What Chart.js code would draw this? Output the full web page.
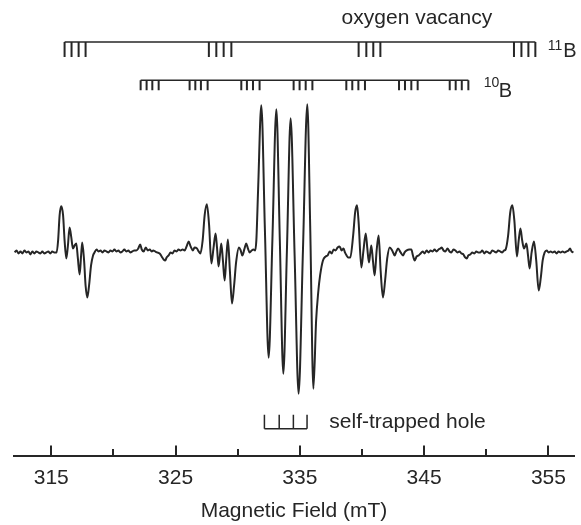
<!DOCTYPE html>
<html lang="en">
  <head>
    <meta charset="UTF-8" />
    <title>EPR spectrum</title>
    <script src="https://cdn.jsdelivr.net/npm/chart.js"></script>
    <style>
      body {
        margin: 0;
        background: #fff;
      }
      .wrap {
        width: 581px;
        height: 525px;
      }
    </style>
  </head>
  <body>
    <div class="wrap">
      <canvas id="myChart" width="581" height="525"></canvas>
    </div>
  </body>
</html>

<script>
  // spectrum (field in mT, intensity in a.u.)
  const field = [
    312.05, 312.2, 312.36, 312.52, 312.68, 312.84, 313.0, 313.16, 313.32, 313.48, 313.64, 313.8, 313.96, 314.12, 314.28, 314.44, 314.6, 314.76, 314.92, 315.08, 315.24, 315.43,
    315.55, 315.67, 315.8, 315.95, 316.07, 316.21, 316.34, 316.47, 316.61, 316.74, 316.88, 317.01, 317.14, 317.28, 317.4, 317.49, 317.64, 317.76, 317.9, 318.04, 318.2, 318.36, 318.48,
    318.64, 318.8, 318.96, 319.12, 319.28, 319.44, 319.6, 319.76, 319.92, 320.08, 320.24, 320.4, 320.56, 320.72, 320.88, 321.04, 321.2, 321.36, 321.52, 321.68, 321.84, 322.0, 322.15, 322.28, 322.44, 322.6, 322.76, 322.92, 323.08, 323.2, 323.36, 323.52, 323.72, 323.88, 324.04, 324.17, 324.28, 324.44, 324.6, 324.76, 324.92, 325.08, 325.24, 325.4, 325.56, 325.73, 325.89, 326.05, 326.21, 326.4, 326.53, 326.72, 326.86,
    327.0, 327.18, 327.34, 327.52, 327.7, 327.88, 328.05, 328.22, 328.34, 328.46, 328.57, 328.68, 328.81, 328.95, 329.08, 329.21, 329.37, 329.54, 329.71, 329.87, 330.1, 330.24, 330.37, 330.53, 330.69, 330.82, 330.96, 331.12, 331.28, 331.4,
    331.5, 331.64, 331.9, 332.19, 332.49, 332.79, 333.11, 333.39, 333.67, 333.96, 334.26, 334.58, 334.9, 335.25, 335.6, 335.84, 336.09, 336.31, 336.47, 336.63, 336.86, 337.08, 337.24,
    337.4, 337.56, 337.72, 337.88, 338.04, 338.2, 338.36, 338.52, 338.63, 338.76, 338.87,
    339.06, 339.29, 339.45, 339.6, 339.73, 339.95, 340.12, 340.3, 340.43, 340.56, 340.66, 340.75, 340.88, 341.02, 341.18, 341.34, 341.5, 341.69, 341.86, 342.03, 342.23, 342.43, 342.63, 342.77, 342.9, 343.11, 343.3, 343.43, 343.6, 343.8, 343.97, 344.1, 344.24, 344.4, 344.56,
    344.72, 344.88, 345.04, 345.2, 345.36, 345.52, 345.68, 345.84, 346.0, 346.16, 346.32, 346.41, 346.56, 346.72, 346.88, 347.04, 347.2, 347.36, 347.52, 347.68, 347.84, 348.0, 348.16, 348.3, 348.43, 348.56, 348.72, 348.88, 349.04, 349.2, 349.36, 349.52, 349.68, 349.84, 350.0, 350.16, 350.32, 350.48, 350.64, 350.8, 350.96, 351.12, 351.28, 351.44, 351.56,
    351.76, 351.93, 352.1, 352.26, 352.47, 352.61, 352.75, 352.89, 353.04, 353.13, 353.23, 353.36, 353.49, 353.65, 353.84, 354.02, 354.22, 354.38, 354.54, 354.7,
    354.86, 355.02, 355.18, 355.34, 355.5, 355.66, 355.82, 355.98, 356.14, 356.3, 356.46, 356.62, 356.74, 356.86, 357.02,
  ];
  const intensity = [
    0, 2, -1, 1, -1, 2, 0, 1, -2, 1, -1, 1, 0, -1, 1, -1, 0, 1, -1, 1, 0, 0,
    12, 37, 46, 37, 12, -6, 7, 25, 15, 4, 7, 9, -6, -22, -3, 10, -8, -33, -45, -33, -13, -3, 0,
    3, 1, 2, 0, 2, 1, 0, 2, 1, 3, 1, 2, 0, 1, 3, 1, 2, 0, 1, 2, 2, 4, 8, 3, 1, 5, 2, 3, 1, 2, 1, 0, -1, -4, -7, -8, -5, -3, 0, -1, 2, 1, 3, 2, 3, 2, 6, 11, 6, 2, 5, 4, 1,
    -1, 12, 37, 48, 27, -11, 4, 19, 4, -14, -3, 9, -8, -28, -6, 13, -18, -51, -33, -10, 5, 2, -3, 3, 9, 4, 0, 2, 3, 2,
    12, 62, 147, 22, -105, 12, 143, 12, -121, 2, 134, -3, -141, 2, 148, 22, -136, -68, -41, -23, -8, -4, -3,
    1, -1, 3, 2, 5, 6, 2, 4, 0, -3, -5,
    -5, 17, 40, 47, 30, -15, 2, 19, 4, -10, -1, 7, -8, -23, 2, 17, -18, -45, -28, -6, 5, 2, -3, 1, 4, 0, -3, 0, 2, 3, 3, -3, -8, -4, -3,
    -1, 1, -1, 2, 0, 2, 1, 3, 1, 3, 4, 5, 2, 1, 4, 1, 0, 3, 2, 0, 1, -1, -2, -5, -6, -3, -2, 0, -1, 1, 0, 0, 2, -1, 1, 0, -1, 2, 1, 0, 2, 1, 0, 2, 3,
    17, 40, 47, 32, -4, 12, 24, 12, 4, 6, 9, -3, -16, 0, 11, -8, -38, -26, -8, 0,
    2, 0, 1, 0, 1, -1, 1, 0, 1, 0, 1, 2, 4, 1, 0,
  ];

  // stick diagrams (mT)
  const boron11 = [
    316.07, 316.63, 317.2, 317.76,
    327.68, 328.28, 328.87, 329.49,
    339.73, 340.35, 340.91, 341.48,
    352.23, 352.83, 353.39, 353.95,
  ];
  const boron10 = [
    322.19, 322.67, 323.13, 323.64,
    326.13, 326.59, 327.04, 327.58,
    330.29, 330.74, 331.23, 331.76,
    334.5, 334.98, 335.47, 336.01,
    338.74, 339.22, 339.71, 340.24,
    342.98, 343.46, 343.97, 344.48,
    347.06, 347.54, 348.03, 348.56,
  ];
  const holeLines = [332.15, 333.34, 334.48, 335.58];

  const tickValues = [315, 320, 325, 330, 335, 340, 345, 350, 355];
  const tickLabels = ["315", "", "325", "", "335", "", "345", "", "355"];

  const ink = "#262626";
  const font = "Liberation Sans, Arial, sans-serif";

  // levels of the stick diagrams, in the same a.u. as the spectrum
  const comb11 = { top: 210, bottom: 195 };
  const comb10 = { top: 172, bottom: 162 };
  const combHole = { top: -162, bottom: -176 };

  function spine(list, lvl) {
    return [
      { x: list[0], y: lvl.top },
      { x: list[list.length - 1], y: lvl.top },
    ];
  }
  function sticks(list, lvl, up) {
    let pts = [];
    list.forEach((f) => {
      pts.push({ x: f, y: up ? lvl.bottom : lvl.top });
      pts.push({ x: f, y: up ? lvl.top : lvl.bottom });
      pts.push({ x: f, y: null });
    });
    return pts;
  }

  function lineSet(data, width) {
    return {
      data: data,
      showLine: true,
      borderColor: ink,
      borderWidth: width,
      pointRadius: 0,
      spanGaps: false,
      clip: false,
    };
  }

  let spectrum = field.map((f, i) => ({ x: f, y: intensity[i] }));

  const textItems = [
    { text: "oxygen vacancy", x: 338.36, y: 228, size: 21 },
    { text: "11", x: 354.94, y: 202, size: 14 },
    { text: "B", x: 356.2, y: 194.7, size: 20 },
    { text: "10", x: 349.79, y: 164.7, size: 14 },
    { text: "B", x: 351.0, y: 155.3, size: 20 },
    { text: "self-trapped hole", x: 337.37, y: -175, size: 21 },
  ];

  const extras = {
    id: "extras",
    afterDraw(chart) {
      const ctx = chart.ctx;
      const xs = chart.scales.x;
      const ys = chart.scales.y;
      ctx.save();
      // axis ticks pointing up
      ctx.strokeStyle = ink;
      ctx.lineWidth = 2;
      tickValues.forEach((v, i) => {
        const px = Math.round(xs.getPixelForValue(v));
        const len = tickLabels[i] ? 10 : 6.5;
        ctx.beginPath();
        ctx.moveTo(px, xs.top);
        ctx.lineTo(px, xs.top - len);
        ctx.stroke();
      });
      // texts
      ctx.fillStyle = ink;
      ctx.textBaseline = "alphabetic";
      ctx.textAlign = "left";
      textItems.forEach((t) => {
        ctx.font = t.size + "px " + font;
        ctx.fillText(t.text, xs.getPixelForValue(t.x), ys.getPixelForValue(t.y));
      });
      ctx.restore();
    },
  };

  let ctx = document.getElementById("myChart");

  let chart = new Chart(ctx, {
    type: "scatter",
    data: {
      datasets: [
        {
          data: spectrum,
          showLine: true,
          borderColor: ink,
          borderWidth: 2,
          pointRadius: 0,
          cubicInterpolationMode: "monotone",
        },
        lineSet(spine(boron11, comb11), 1.5),
        lineSet(sticks(boron11, comb11, false), 2),
        lineSet(spine(boron10, comb10), 1.5),
        lineSet(sticks(boron10, comb10, false), 2),
        lineSet(
          [
            { x: holeLines[0], y: combHole.bottom },
            { x: holeLines[holeLines.length - 1], y: combHole.bottom },
          ],
          1.5
        ),
        lineSet(sticks(holeLines, combHole, true), 1.5),
      ],
    },
    options: {
      responsive: false,
      animation: false,
      layout: { padding: { left: 14, right: 7, top: 0, bottom: 0 } },
      plugins: {
        legend: { display: false },
        tooltip: { enabled: false },
      },
      scales: {
        x: {
          type: "linear",
          position: "bottom",
          min: 312,
          max: 357.06,
          afterBuildTicks: (scale) => {
            scale.ticks = tickValues.map((v) => ({ value: v }));
          },
          ticks: {
            autoSkip: false,
            maxRotation: 0,
            padding: 12,
            color: ink,
            font: { family: font, size: 21, lineHeight: 1 },
            callback: (v) => tickLabels[tickValues.indexOf(v)],
          },
          grid: { display: true, drawOnChartArea: false, drawTicks: false },
          border: { display: true, color: ink, width: 2 },
          title: {
            display: true,
            text: "Magnetic Field (mT)",
            color: ink,
            font: { family: font, size: 21, lineHeight: 1 },
            padding: { top: 0, bottom: 3.5 },
          },
        },
        y: {
          display: false,
          min: -202.7,
          max: 252,
        },
      },
    },
    plugins: [extras],
  });
</script>
